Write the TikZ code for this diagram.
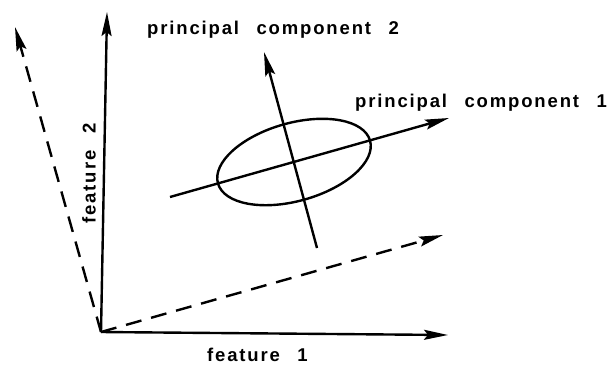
\documentclass[tikz,border=0pt]{standalone}
\usepackage{fontspec}
\setmainfont{Liberation Sans}
\newfontfamily\labfont[LetterSpace=10,WordSpace=2.5]{Liberation Sans Bold}
\usetikzlibrary{arrows.meta,shapes.geometric}
\begin{document}
\begin{tikzpicture}[x=1pt,y=-1pt,
  axis/.style={line width=2.4pt,-{Stealth[length=24pt,width=10pt,inset=4pt]}},
  dashaxis/.style={axis,dash pattern=on 16pt off 10pt},
  lab/.style={font=\labfont\fontsize{18.5}{22}\selectfont,inner sep=0pt},
  cloud/.style={draw,ellipse,line width=2.4pt,minimum width=158pt,minimum height=78pt,inner sep=0pt}]
\useasboundingbox (0,0) rectangle (613,365);
\coordinate (O) at (101,332);
\coordinate (F1) at (448,335);
\coordinate (F2) at (107,12);
\coordinate (D1) at (443,235);
\coordinate (D2) at (15,27);
\coordinate (P1s) at (170,197);
\coordinate (P1e) at (449,118);
\coordinate (P2s) at (317,248);
\coordinate (P2e) at (264,52);
\node[cloud,rotate=15.7] (E) at (294,162) {};
\draw[axis] (O) -- (F1);
\draw[axis] (O) -- (F2);
\draw[dashaxis] (O) -- (D1);
\draw[dashaxis] (O) -- (D2);
\draw[axis] (P1s) -- (P1e);
\draw[axis] (P2s) -- (P2e);
\node[lab,anchor=west] (L2) at (147,30) {principal component 2};
\node[lab,anchor=west] (L1) at (355,103) {principal component 1};
\node[lab,anchor=west] (LF1) at (207,355) {feature 1};
\node[lab,rotate=90] (LF2) at (89,173) {feature 2};
\end{tikzpicture}
\end{document}
